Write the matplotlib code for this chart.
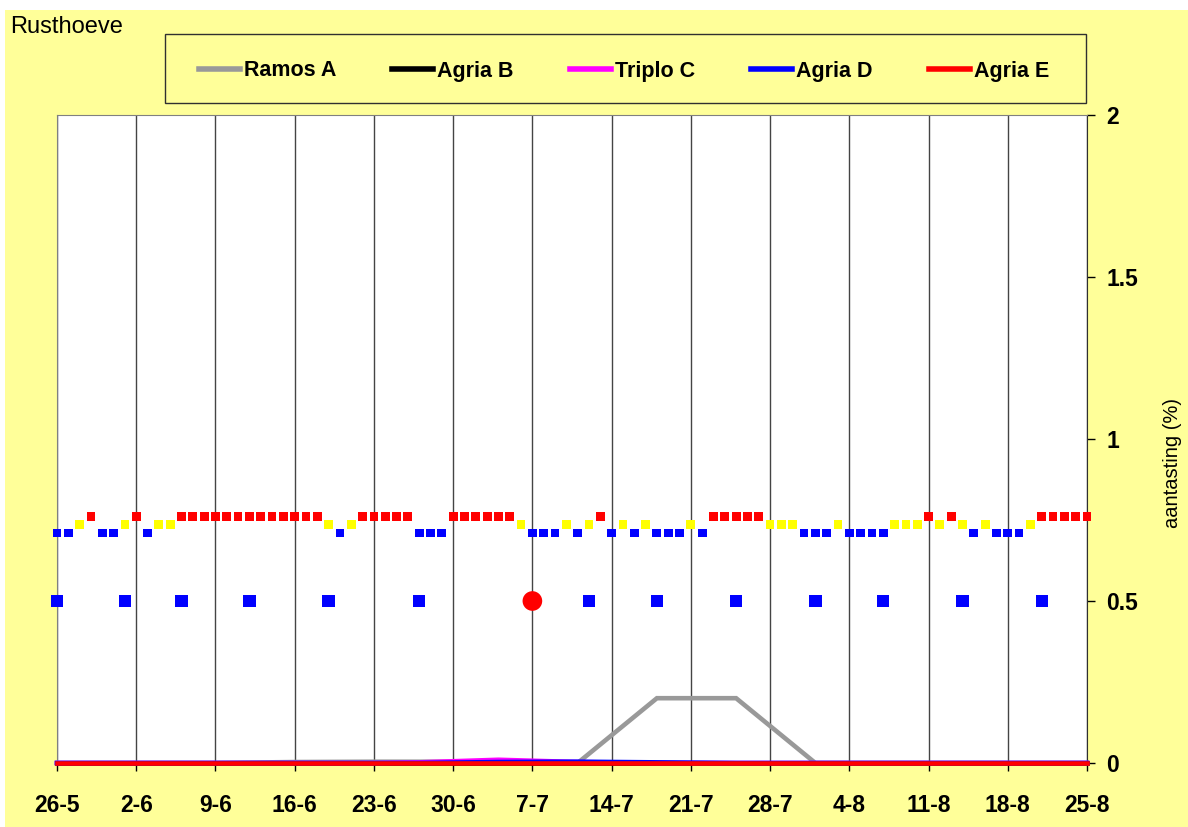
import matplotlib.pyplot as plt
from matplotlib.patches import Rectangle
from matplotlib.lines import Line2D

plt.rcParams['font.family'] = ['Liberation Sans', 'DejaVu Sans']

# x axis: days since 26-5
tick_days = [0, 7, 14, 21, 28, 35, 42, 49, 56, 63, 70, 77, 84, 91]
tick_labels = ['26-5', '2-6', '9-6', '16-6', '23-6', '30-6', '7-7',
               '14-7', '21-7', '28-7', '4-8', '11-8', '18-8', '25-8']

# daily weather code (1 = blue, 2 = yellow, 3 = red), day 0..91
weather = [1, 1, 2, 3, 1, 1, 2, 3, 1, 2, 2, 3,
           3, 3, 3, 3, 3, 3, 3, 3, 3, 3, 3, 3,
           2, 1, 2,
           3, 3, 3, 3, 3,
           1, 1, 1,
           3, 3, 3, 3, 3, 3,
           2,
           1, 1, 1,
           2, 1, 2, 3, 1,
           2, 1, 2,
           1, 1, 1,
           2, 1,
           3, 3, 3, 3, 3,
           2, 2, 2,
           1, 1, 1,
           2,
           1, 1, 1, 1,
           2, 2, 2,
           3, 2, 3, 2, 1, 2,
           1, 1, 1,
           2,
           3, 3, 3, 3, 3]
weather_y = {1: 0.71, 2: 0.735, 3: 0.76}
weather_col = {1: '#0000FF', 2: '#FFFF00', 3: '#FF0000'}

# spray days (blue squares) and the red circle
spray_days = [0, 6, 11, 17, 24, 32, 47, 53, 60, 67, 73, 80, 87]
circle_days = [42]
marker_level = 0.5

# observations of attack (%)
obs_days = [0, 7, 14, 21, 28, 32, 39, 46, 53, 60, 67, 74, 81, 91]
series = {
    'Ramos A': [0, 0, 0, 0.003, 0.004, 0.004, 0.004, 0, 0.2, 0.2, 0, 0, 0, 0],
    'Agria B': [0, 0, 0, 0, 0, 0, 0, 0, 0, 0, 0, 0, 0, 0],
    'Triplo C': [0, 0, 0, 0, 0, 0.002, 0.01, 0.003, 0, 0, 0, 0, 0, 0],
    'Agria D': [0, 0, 0, 0, 0, 0, 0.003, 0.004, 0.002, 0, 0, 0, 0, 0],
    'Agria E': [0, 0, 0, 0, 0, 0, 0, 0, 0, 0, 0, 0, 0, 0],
}
colors = {'Ramos A': '#999999', 'Agria B': '#000000', 'Triplo C': '#FF00FF',
          'Agria D': '#0000FF', 'Agria E': '#FF0000'}

W, H = 1188, 827
fig = plt.figure(figsize=(W / 100, H / 100), dpi=100, facecolor='white')
fig.patches.append(Rectangle((5 / W, 0), 1 - 5 / W, 1 - 10 / H,
                             transform=fig.transFigure, facecolor='#FFFF99',
                             edgecolor='none', zorder=-10))

ax = fig.add_axes([57 / W, 1 - 763 / H, (1087 - 57) / W, (763 - 115) / H])
ax.set_facecolor('white')

for d in tick_days:
    ax.axvline(d, color='#444444', lw=1, zorder=1)

for name, vals in series.items():
    ax.plot(obs_days, vals, color=colors[name], lw=3.3, zorder=3,
            clip_on=False, solid_joinstyle='miter')

days = list(range(len(weather)))
ax.scatter(days, [weather_y[w] for w in weather], marker='s', s=40,
           c=[weather_col[w] for w in weather], edgecolors='none', zorder=4,
           clip_on=False)
ax.scatter(spray_days, [marker_level] * len(spray_days), marker='s', s=80,
           color='#0000FF', edgecolors='none', zorder=4, clip_on=False)
ax.scatter(circle_days, [marker_level] * len(circle_days), marker='o', s=200,
           color='#FF0000', edgecolors='none', zorder=5)

ax.set_xlim(0, 91)
ax.set_ylim(0, 2)
ax.set_xticks(tick_days)
ax.set_xticklabels(tick_labels, fontsize=16.5, fontweight='bold')
ax.set_yticks([0, 0.5, 1, 1.5, 2])
ax.set_yticklabels(['0', '0.5', '1', '1.5', '2'], fontsize=16.5, fontweight='bold')
ax.yaxis.tick_right()
ax.tick_params(axis='x', direction='out', length=6, width=1, pad=16)
ax.tick_params(axis='y', direction='out', length=6, width=1, pad=8)
ax.tick_params(axis='y', left=False, labelleft=False)

ax.yaxis.set_label_position('right')
ax.set_ylabel('aantasting (%)', fontsize=14.5, rotation=90)
ax.yaxis.set_label_coords(1.074, 0.463)

for side in ['left', 'top']:
    ax.spines[side].set_color('#808080')
ax.spines['right'].set_color('#303030')
ax.spines['bottom'].set_color('#303030')

fig.text(10 / W, 1 - 27 / H, 'Rusthoeve', fontsize=17, va='center', ha='left')

# legend box
fig.patches.append(Rectangle((165 / W, 1 - 103 / H), (1086 - 165) / W, (103 - 34) / H,
                             transform=fig.transFigure, facecolor='none',
                             edgecolor='#303030', lw=1))
handles = [Line2D([], [], color=colors[n], lw=4) for n in series]
fig.legend(handles, list(series.keys()), loc='center',
           bbox_to_anchor=(624 / W, 1 - 71 / H), ncol=5, frameon=False,
           prop={'size': 15.5, 'weight': 'bold'}, handlelength=1.9,
           handletextpad=0.2, columnspacing=2.6)

fig.savefig('out.png', dpi=100, facecolor=fig.get_facecolor())
